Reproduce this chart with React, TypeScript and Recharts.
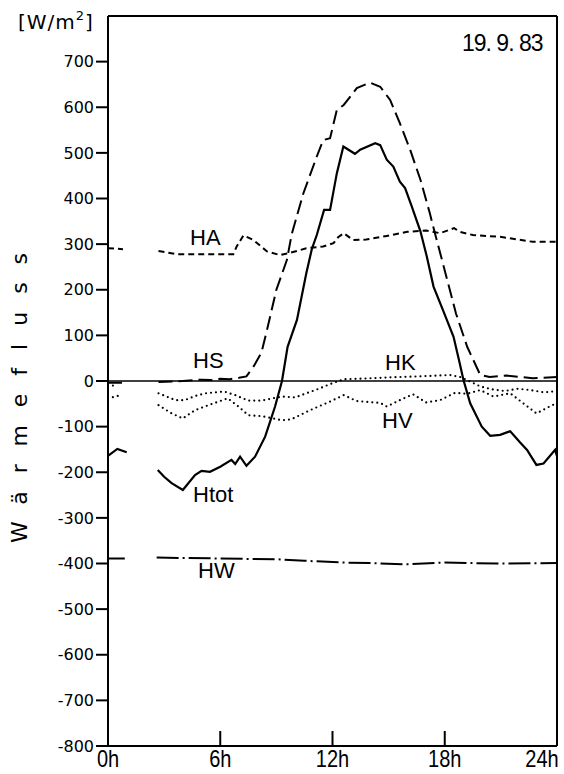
import React from "react";
import { LineChart, Line, XAxis, YAxis, ReferenceLine } from "recharts";

// Wärmefluss 19.9.83 — hours and W/m² per series (null = gap in record)
const TOT_H = [0, 0.5, 1.0, 1.8, 2.66, 3.0, 3.4, 4.0, 4.65, 5.0, 5.45, 6.0, 6.6, 6.8, 7.06, 7.4, 7.86, 8.4, 8.93, 9.3, 9.6, 10.1, 10.6, 10.9, 11.16, 11.55, 11.87, 12.23, 12.58, 13.2, 13.48, 14.28, 14.55, 14.9, 15.25, 15.6, 15.88, 16.24, 16.7, 17.04, 17.4, 17.9, 18.47, 18.8, 19.0, 19.36, 19.98, 20.43, 20.96, 21.5, 22.03, 22.4, 22.9, 23.28, 23.9, 24];
const TOT_V = [-164, -149, -156, null, -195, -210, -224, -239, -206, -197, -199, -188, -173, -182, -166, -186, -166, -122, -56, 0, 75, 134, 236, 290, 320, 375, 375, 455, 514, 498, 507, 521, 517, 485, 470, 437, 423, 382, 328, 273, 207, 156, 97, 39, 2, -49, -100, -120, -118, -110, -135, -151, -184, -181, -151, -165];

const HS_H = [0, 0.8, 1.8, 2.7, 4, 5, 5.5, 6, 6.5, 7, 7.4, 7.8, 8.2, 8.5, 9.0, 9.56, 9.82, 10.44, 11.16, 11.5, 11.87, 12.23, 12.6, 13.3, 14.0, 14.55, 15.08, 15.6, 16.15, 16.7, 17.2, 17.5, 17.9, 18.6, 19.2, 19.9, 20.4, 21.3, 22.7, 24];
const HS_V = [-4, -4, null, -2, 0, 3, 2, 5, 4, 7, 10, 33, 62, 112, 200, 265, 322, 411, 492, 528, 532, 594, 605, 642, 654, 645, 616, 565, 507, 441, 368, 320, 258, 148, 75, 13, 9, 12, 6, 9];

const HA_H = [0, 0.8, 1.8, 2.7, 3.67, 4.4, 5.5, 6.7, 6.88, 7.24, 7.77, 8.5, 9.2, 9.73, 10.27, 10.6, 11.5, 12.05, 12.3, 12.6, 13.1, 13.8, 14.9, 16.0, 17.0, 17.75, 18.5, 18.8, 19.5, 20.96, 22.7, 24];
const HA_V = [291, 289, null, 285, 278, 278, 278, 278, 295, 319, 309, 284, 276, 281, 287, 291, 295, 302, 315, 324, 309, 310, 318, 327, 330, 324, 335, 327, 320, 316, 305, 305];

const HK_H = [0, 0.5, 1.8, 2.7, 3.6, 4.1, 4.65, 5.2, 6.2, 6.8, 7.5, 8.2, 9.3, 10.0, 10.6, 11.2, 11.8, 12.6, 13.5, 15.1, 16.5, 18.3, 18.8, 19.3, 19.9, 20.5, 21.2, 21.9, 22.6, 23.3, 24];
const HK_V = [-8, -12, null, -27, -42, -42, -33, -27, -23, -31, -43, -43, -34, -36, -27, -18, -8, 4, 5, 8, 10, 13, 9, 0, -12, -18, -22, -17, -20, -25, -22];

const HV_H = [0, 0.7, 1.8, 2.7, 3.4, 4.0, 4.65, 5.37, 6.4, 6.97, 7.5, 8.2, 9.3, 9.8, 10.8, 11.87, 12.6, 13.3, 14.55, 14.9, 15.6, 16.3, 17.0, 17.75, 18.55, 19.2, 19.9, 20.6, 21.5, 22.2, 22.9, 23.6, 24];
const HV_V = [-38, -31, null, -53, -71, -82, -64, -53, -38, -56, -75, -77, -86, -84, -64, -45, -31, -44, -48, -56, -42, -29, -47, -42, -26, -28, -20, -34, -27, -49, -71, -56, -48];

const HW_H = [0, 0.9, 1.8, 2.6, 6, 9.2, 10.5, 12.6, 14, 15.8, 17.9, 20.8, 24];
const HW_V = [-389, -389, null, -387, -389, -391, -394, -398, -399, -402, -398, -400, -399];

const Y_TICKS = [-800, -700, -600, -500, -400, -300, -200, -100, 0, 100, 200, 300, 400, 500, 600, 700];
const X_TICKS = [0, 6, 12, 18, 24];

const rows = (hs: number[], vs: (number | null)[]) => hs.map((h, i) => ({ h, v: vs[i] }));

const XTick = (props: any) => {
  const { x, y, payload } = props;
  const inner = payload.value > 0 && payload.value < 24;
  const tx = payload.value === 24 ? x - 14 : x;
  return (
    <g>
      {inner && <line x1={x} x2={x} y1={y} y2={y - 15} stroke="#000" strokeWidth={2} />}
      <text
        x={0}
        y={0}
        textAnchor="middle"
        fontSize={20}
        fontFamily="Liberation Sans, Arial, sans-serif"
        fill="#000"
        transform={`translate(${tx},${y + 21}) scale(1,1.2)`}
      >
        {payload.value}h
      </text>
    </g>
  );
};

const lbl: React.CSSProperties = {
  position: "absolute",
  fontFamily: "Liberation Sans, Arial, sans-serif",
  fontSize: 22,
  lineHeight: 1,
  color: "#000",
  whiteSpace: "nowrap",
};

export default function App() {
  const line = { dot: false, isAnimationActive: false, type: "linear" as const, dataKey: "v", stroke: "#000" };
  return (
    <div style={{ position: "absolute", left: 0, top: 0, width: 564, height: 774, background: "#fff" }}>
      <LineChart width={564} height={774} margin={{ top: 16, right: 7, left: 0, bottom: 0 }}>
        <XAxis
          type="number"
          dataKey="h"
          domain={[0, 24]}
          ticks={X_TICKS}
          height={28}
          tickSize={0}
          tickMargin={0}
          tickLine={false}
          tick={<XTick />}
          axisLine={{ stroke: "#000", strokeWidth: 2 }}
          allowDataOverflow
        />
        <YAxis
          type="number"
          domain={[-800, 800]}
          ticks={Y_TICKS}
          width={108}
          tickSize={12}
          tickMargin={2}
          interval={0}
          axisLine={{ stroke: "#000", strokeWidth: 2 }}
          tickLine={{ stroke: "#000", strokeWidth: 2 }}
          tick={{ fill: "#000", fontSize: 16, fontFamily: "DejaVu Sans, sans-serif" }}
          allowDataOverflow
        />
        <ReferenceLine y={800} stroke="#000" strokeWidth={2} />
        <ReferenceLine x={24} stroke="#000" strokeWidth={2} />
        <ReferenceLine y={0} stroke="#000" strokeWidth={1.6} />
        <Line {...line} data={rows(HW_H, HW_V)} strokeWidth={2} strokeDasharray="22 4 2 4" />
        <Line {...line} data={rows(HV_H, HV_V)} strokeWidth={2.2} strokeDasharray="0 5" strokeLinecap="round" />
        <Line {...line} data={rows(HK_H, HK_V)} strokeWidth={2.2} strokeDasharray="0 5" strokeLinecap="round" />
        <Line {...line} data={rows(HA_H, HA_V)} strokeWidth={2} strokeDasharray="6 4" />
        <Line {...line} data={rows(HS_H, HS_V)} strokeWidth={2} strokeDasharray="14 6" />
        <Line {...line} data={rows(TOT_H, TOT_V)} strokeWidth={2.2} />
      </LineChart>

      <div style={{ ...lbl, left: 18, top: 12, fontFamily: "DejaVu Sans, sans-serif", fontSize: 20, letterSpacing: 1 }}>
        [W/m<span style={{ fontSize: 13, position: "relative", top: -9 }}>2</span>]
      </div>
      <div style={{ ...lbl, left: 462, top: 32, fontSize: 23, letterSpacing: -1 }}>19. 9. 83</div>
      <div
        style={{
          ...lbl,
          left: 20,
          top: 398,
          fontFamily: "DejaVu Sans, sans-serif",
          fontSize: 22,
          letterSpacing: 18,
          paddingLeft: 18,
          transform: "translate(-50%, -50%) rotate(-90deg)",
        }}
      >
        Wärmefluss
      </div>
      <div style={{ ...lbl, left: 190, top: 227 }}>HA</div>
      <div style={{ ...lbl, left: 193, top: 350 }}>HS</div>
      <div style={{ ...lbl, left: 385, top: 352 }}>HK</div>
      <div style={{ ...lbl, left: 382, top: 410 }}>HV</div>
      <div style={{ ...lbl, left: 193, top: 484 }}>Htot</div>
      <div style={{ ...lbl, left: 198, top: 560 }}>HW</div>
    </div>
  );
}
